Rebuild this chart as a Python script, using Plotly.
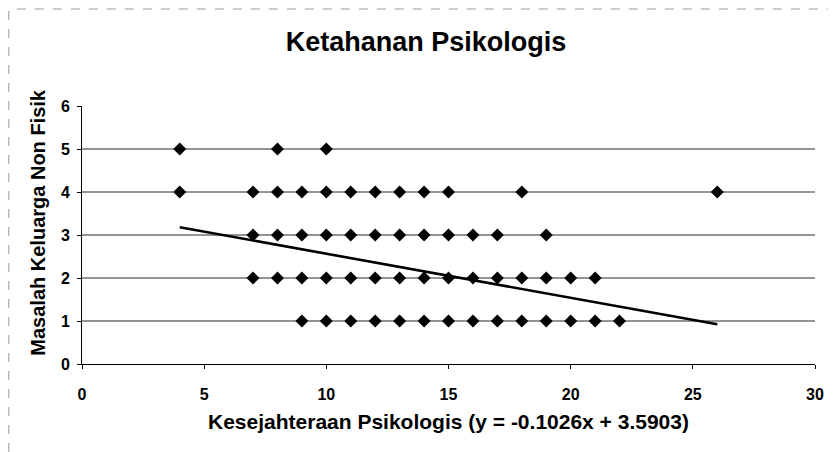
import plotly.graph_objects as go

# Data: x values for each y level
y_levels = [5, 4, 3, 2, 1]
x_at_5 = [4, 8, 10]
x_at_4 = [4, 7, 8, 9, 10, 11, 12, 13, 14, 15, 18, 26]
x_at_3 = [7, 8, 9, 10, 11, 12, 13, 14, 15, 16, 17, 19]
x_at_2 = [7, 8, 9, 10, 11, 12, 13, 14, 15, 16, 17, 18, 19, 20, 21]
x_at_1 = [9, 10, 11, 12, 13, 14, 15, 16, 17, 18, 19, 20, 21, 22]

slope = -0.1026
intercept = 3.5903

x_ticks = [0, 5, 10, 15, 20, 25, 30]
y_ticks = [0, 1, 2, 3, 4, 5, 6]

title_text = "Ketahanan Psikologis"
x_title = "Kesejahteraan Psikologis (y = -0.1026x + 3.5903)"
y_title = "Masalah Keluarga Non Fisik"

xs, ys = [], []
for lvl, arr in zip(y_levels, [x_at_5, x_at_4, x_at_3, x_at_2, x_at_1]):
    xs += arr
    ys += [lvl] * len(arr)

trend_x = [min(xs), max(xs)]
trend_y = [slope * v + intercept for v in trend_x]

FONT = "Liberation Sans, Arial, sans-serif"

fig = go.Figure()
fig.add_trace(go.Scatter(x=trend_x, y=trend_y, mode="lines",
                         line=dict(color="black", width=2.6), showlegend=False))
fig.add_trace(go.Scatter(x=xs, y=ys, mode="markers",
                         marker=dict(symbol="diamond", size=10, color="black"),
                         showlegend=False))

W, H = 828, 444
L, R, T, B = 74, 18, 98, 88
pw, ph = W - L - R, H - T - B

shapes = []
for g in y_ticks[1:-1]:
    shapes.append(dict(type="line", xref="paper", yref="y", x0=0, x1=1, y0=g, y1=g,
                       line=dict(color="#2a2a2a", width=1), layer="below"))
# dashed chart border (left & top)
top_y = 1 + (T - 1) / ph
left_x = -(L - 0.5) / pw
shapes.append(dict(type="line", xref="paper", yref="paper", x0=left_x, x1=left_x,
                   y0=-B / ph, y1=top_y, line=dict(color="#999999", width=1, dash="dash")))
shapes.append(dict(type="line", xref="paper", yref="paper", x0=left_x + 8 / pw, x1=1 + R / pw,
                   y0=top_y, y1=top_y, line=dict(color="#999999", width=1, dash="dash")))

annotations = [
    dict(text="<b>" + x_title + "</b>", xref="paper", yref="paper",
         x=(441.5 - L) / pw, y=(H - B - 413) / ph, xanchor="center", yanchor="middle",
         showarrow=False, font=dict(family=FONT, size=21, color="black")),
    dict(text="<b>" + y_title + "</b>", xref="paper", yref="paper", textangle=-90,
         x=(29 - L) / pw, y=(H - B - 350) / ph, xanchor="center", yanchor="bottom",
         showarrow=False, font=dict(family=FONT, size=20, color="black")),
]

fig.update_layout(
    width=W, height=H,
    margin=dict(l=L, r=R, t=T, b=B),
    paper_bgcolor="white", plot_bgcolor="white",
    title=dict(text="<b>" + title_text + "</b>", x=418 / W, xanchor="center", xref="container",
               y=1 - 34 / H, yanchor="middle",
               font=dict(family=FONT, size=27, color="black")),
    font=dict(family=FONT, color="black"),
    shapes=shapes,
    annotations=annotations,
    xaxis=dict(range=[0, 30], tickvals=x_ticks, ticktext=["<b>%d</b>" % v for v in x_ticks],
               showgrid=False, zeroline=False,
               showline=True, linecolor="black", linewidth=1,
               ticks="outside", ticklen=4, tickcolor="black", ticklabelstandoff=12,
               tickfont=dict(family=FONT, size=16, color="black")),
    yaxis=dict(range=[0, 6], tickvals=y_ticks, ticktext=["<b>%d</b>" % v for v in y_ticks],
               showgrid=False, zeroline=False,
               showline=True, linecolor="black", linewidth=1,
               ticks="outside", ticklen=4, tickcolor="black", ticklabelstandoff=4,
               tickfont=dict(family=FONT, size=16, color="black")),
)

fig.write_html("out.html")
